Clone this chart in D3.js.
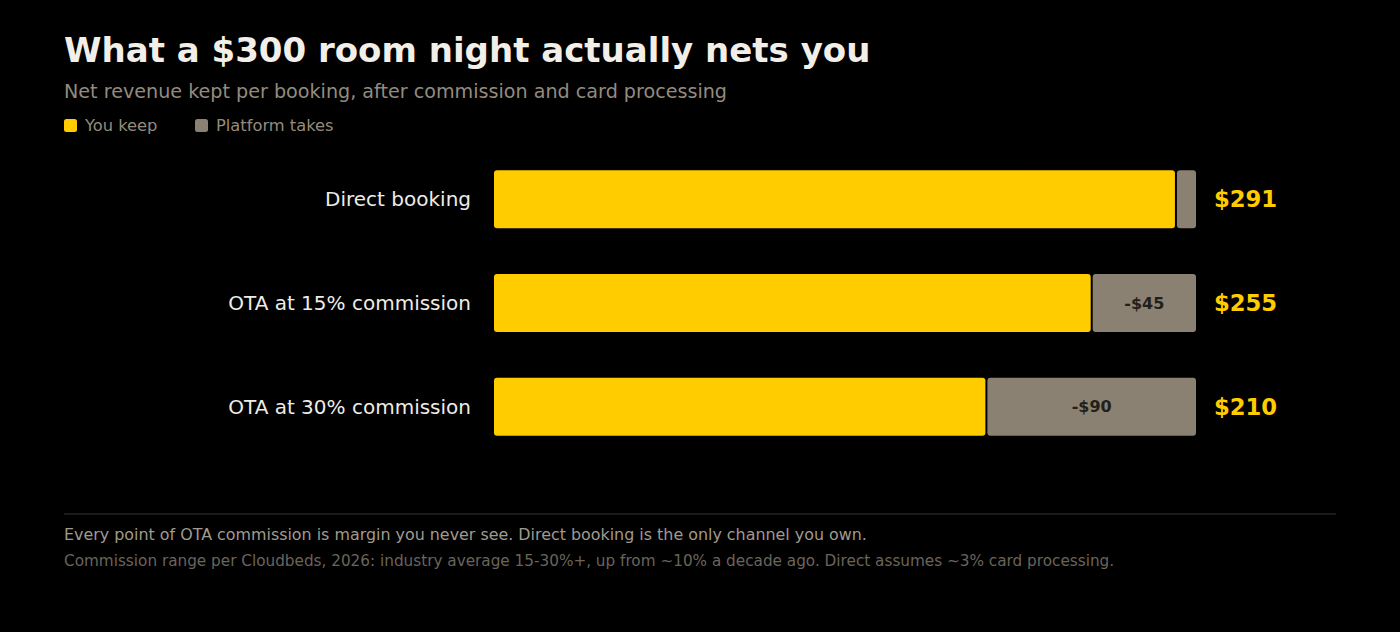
<!DOCTYPE html>
<html><head><meta charset="utf-8">
<script src="https://cdn.jsdelivr.net/npm/d3@7"></script>
<style>
html,body{margin:0;padding:0;background:#000;}
svg{display:block;font-family:"DejaVu Sans",sans-serif;}
</style></head>
<body><svg id="c" width="1400" height="632"></svg>
<script>
const categories = ["Direct booking", "OTA at 15% commission", "OTA at 30% commission"];
const keepValues = [291, 255, 210];
const takeValues = [9, 45, 90];
const takeLabels = ["", "-$45", "-$90"];
const totalPrice = 300;

const svg = d3.select("#c");
const W = 1400;
const YEL = "#ffcc00", GRAY = "#8a8172";

svg.append("rect").attr("width", W).attr("height", 632).attr("fill", "#000");

svg.append("text").attr("x", 64).attr("y", 62).attr("fill", "#f2efe8")
  .attr("font-size", 34).attr("font-weight", "bold").text("What a $300 room night actually nets you");
svg.append("text").attr("x", 64).attr("y", 98).attr("fill", "#948b7e")
  .attr("font-size", 19.15).text("Net revenue kept per booking, after commission and card processing");

const legend = [{l:"You keep", c:YEL, x:64},{l:"Platform takes", c:GRAY, x:195}];
legend.forEach(d => {
  svg.append("rect").attr("x", d.x).attr("y", 119).attr("width", 13).attr("height", 13).attr("rx", 2.5).attr("fill", d.c);
  svg.append("text").attr("x", d.x + 21).attr("y", 131).attr("fill", "#948b7e").attr("font-size", 16.3).text(d.l);
});

const x = d3.scaleLinear().domain([0, totalPrice]).range([494, 1196]);
const y = d3.scaleBand().domain(categories).range([147, 459]).paddingInner(0.443).paddingOuter(0.225);

const rows = svg.append("g").selectAll("g").data(categories).join("g");
rows.append("text").attr("x", 471).attr("y", d => y(d) + y.bandwidth()/2).attr("dy", "0.35em")
  .attr("text-anchor", "end").attr("fill", "#efece6").attr("font-size", 20).text(d => d);
rows.append("rect").attr("x", x(0)).attr("y", d => y(d)).attr("height", y.bandwidth())
  .attr("width", (d,i) => x(keepValues[i]) - x(0)).attr("rx", 3).attr("fill", YEL);
rows.append("rect").attr("x", (d,i) => x(keepValues[i]) + 2).attr("y", d => y(d)).attr("height", y.bandwidth())
  .attr("width", (d,i) => x(keepValues[i] + takeValues[i]) - x(keepValues[i]) - 2).attr("rx", 3).attr("fill", GRAY);
rows.append("text").attr("x", (d,i) => (x(keepValues[i]) + x(keepValues[i] + takeValues[i]))/2 + 1)
  .attr("y", d => y(d) + y.bandwidth()/2).attr("dy", "0.35em").attr("text-anchor", "middle")
  .attr("fill", "#222018").attr("font-size", 16).attr("font-weight", "bold").text((d,i) => takeLabels[i]);
rows.append("text").attr("x", 1214).attr("y", d => y(d) + y.bandwidth()/2).attr("dy", "0.35em")
  .attr("fill", YEL).attr("font-size", 22.7).attr("font-weight", "bold").text((d,i) => "$" + keepValues[i]);

svg.append("line").attr("x1", 64).attr("x2", 1336).attr("y1", 514).attr("y2", 514).attr("stroke", "#262422").attr("stroke-width", 1.5);
svg.append("text").attr("x", 64).attr("y", 540).attr("fill", "#a19a8d").attr("font-size", 15.9)
  .text("Every point of OTA commission is margin you never see. Direct booking is the only channel you own.");
svg.append("text").attr("x", 64).attr("y", 566).attr("fill", "#6a645b").attr("font-size", 15.25)
  .text("Commission range per Cloudbeds, 2026: industry average 15-30%+, up from ~10% a decade ago. Direct assumes ~3% card processing.");
</script></body></html>
